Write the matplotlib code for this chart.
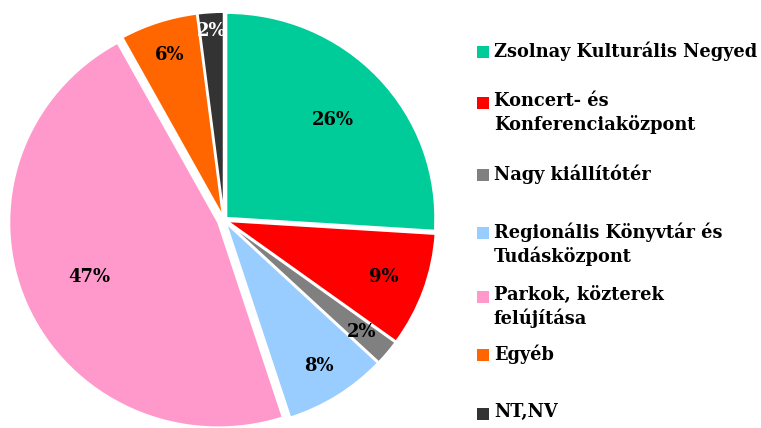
import numpy as np
import matplotlib.pyplot as plt
from matplotlib.patches import Rectangle

labels = ["Zsolnay Kulturális Negyed", "Koncert- és\nKonferenciaközpont", "Nagy kiállítótér",
          "Regionális Könyvtár és\nTudásközpont", "Parkok, közterek\nfelújítása", "Egyéb", "NT,NV"]
shares = [26, 9, 2, 8, 47, 6, 2]
colors = ["#00CC99", "#FF0000", "#808080", "#99CCFF", "#FF99CC", "#FF6600", "#333333"]
pct_colors = ["black", "black", "black", "black", "black", "black", "white"]

explode = [0.015, 0.015, 0.015, 0.015, 0.03, 0.015, 0.015]
label_r = [0.70, 0.80, 0.84, 0.83, 0.67, 0.83, 0.91]
legend_y = [52, 103, 175, 233, 297, 355, 414]   # pixel rows, from the top

W, H = 761, 428
cx, cy = 224, 220
Rx, Ry = 209, 205   # slightly wider than tall

plt.rcParams['font.family'] = ['DejaVu Serif']
fig = plt.figure(figsize=(W / 100, H / 100), dpi=100)

aw = 465
ax = fig.add_axes([0, 0, aw / W, 1])
wedges, _ = ax.pie(shares, colors=colors, startangle=90, counterclock=False,
                   explode=explode, wedgeprops=dict(edgecolor="white", linewidth=1.5))
ax.set_xlim(-cx / Rx, (aw - cx) / Rx)
ax.set_ylim(-(H - cy) / Ry, cy / Ry)
ax.set_aspect("auto")
ax.axis("off")

for w, s, r, e, c in zip(wedges, shares, label_r, explode, pct_colors):
    ang = np.deg2rad((w.theta1 + w.theta2) / 2)
    ax.text((r + e) * np.cos(ang), (r + e) * np.sin(ang), f"{s}%",
            ha="center", va="center", fontsize=13, fontweight="bold", color=c)

# legend drawn by hand to keep the uneven row spacing
lg = fig.add_axes([0, 0, 1, 1])
lg.set_xlim(0, W)
lg.set_ylim(H, 0)
lg.axis("off")
for lab, col, y in zip(labels, colors, legend_y):
    lg.add_patch(Rectangle((477, y - 6), 12, 12, facecolor=col, edgecolor="none"))
    lg.text(494, y - 11, lab, ha="left", va="top", fontsize=12.8, fontweight="bold",
            color="black", linespacing=1.3)

fig.savefig("out.png", dpi=100)
